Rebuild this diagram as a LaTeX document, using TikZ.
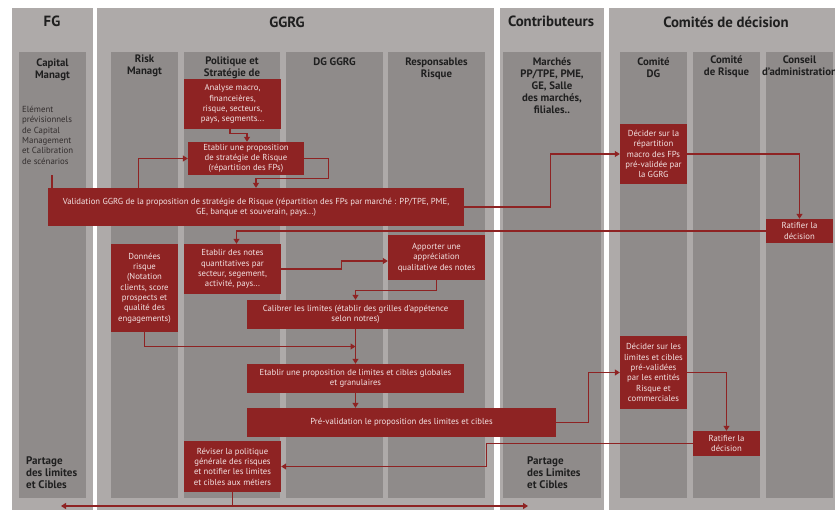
\documentclass[tikz,border=0pt]{standalone}
\usepackage{fontspec}
\setmainfont{PT Sans}
\usetikzlibrary{arrows.meta,calc}
\definecolor{panel}{HTML}{AEAAA9}
\definecolor{lane}{HTML}{8F8B8A}
\definecolor{rd}{HTML}{8E2323}
\definecolor{rtxt}{HTML}{F2E2E2}
\definecolor{hd}{HTML}{1F1F1F}
\definecolor{gtxt}{HTML}{332E2E}
\begin{document}
\begin{tikzpicture}[x=1pt,y=-1pt,
  panelbox/.style={fill=panel,draw=none},
  lanebox/.style={fill=lane,draw=none},
  titletxt/.style={font=\fontsize{14.8}{16}\selectfont\bfseries,text=hd,inner sep=0},
  lanehead/.style={font=\fontsize{10.8}{12}\selectfont\bfseries,text=hd,align=center,inner sep=0},
  rbox/.style={fill=rd,text=rtxt,font=\fontsize{8.7}{10.3}\selectfont,align=center,inner sep=0,draw=none},
  arr/.style={draw=rd,line width=1.1pt,-{Triangle[width=6pt,length=5pt]}},
  darr/.style={draw=rd,line width=1.1pt,{Triangle[width=6pt,length=5pt]}-{Triangle[width=6pt,length=5pt]}},
  conn/.style={draw=rd,line width=1.1pt},
  gtext/.style={font=\fontsize{8.8}{10.3}\selectfont,text=gtxt,align=left,inner sep=0},
  ptext/.style={font=\fontsize{11}{12}\selectfont\bfseries,text=hd,align=left,inner sep=0}
]
\useasboundingbox (0,0) rectangle (835,509);
\clip (0,0) rectangle (835,509);
\fill[white] (0,0) rectangle (835,509);
% panels
\fill[panelbox] (12,8) rectangle (93,515);
\fill[panelbox] (97,8) rectangle (494,515);
\fill[panelbox] (500,8) rectangle (604,515);
\fill[panelbox] (609,8) rectangle (845,515);
% lanes
\fill[lanebox] (19,52) rectangle (86,498);
\fill[lanebox] (111,52) rectangle (178,498);
\fill[lanebox] (184,52) rectangle (280,498);
\fill[lanebox] (286,52) rectangle (383,498);
\fill[lanebox] (388,52) rectangle (485,498);
\fill[lanebox] (503,52) rectangle (601,498);
\fill[lanebox] (620,52) rectangle (687,498);
\fill[lanebox] (693,52) rectangle (760,498);
\fill[lanebox] (766,52) rectangle (833,498);
% titles
\node[titletxt] (tfg) at (52,21) {FG};
\node[titletxt] (tgg) at (287,22) {GGRG};
\node[titletxt] (tco) at (551,21) {Contributeurs};
\node[titletxt] (tcd) at (726,22) {Comités de décision};
% lane headers
\node[lanehead] (hcap) at (52.5,69.5) {Capital\\Managt};
\node[lanehead] (hrisk) at (144.5,66) {Risk\\Managt};
\node[lanehead] (hpol) at (232,67.5) {Politique et\\Stratégie de};
\node[lanehead] (hdg) at (334.5,62) {DG GGRG};
\node[lanehead] (hresp) at (436.5,69) {Responsables\\Risque};
\node[lanehead] (hmar) at (552,86) {Marchés\\PP/TPE, PME,\\GE, Salle\\des marchés,\\filiales..};
\node[lanehead] (hcdg) at (653.5,68) {Comité\\DG};
\node[lanehead] (hcr) at (726.5,67) {Comité\\de Risque};
\node[lanehead] (hca) at (799.5,66) {Conseil\\d’administration};
% side texts
\node[gtext,anchor=north west] (elem) at (22,106) {Elément\\prévisionnels\\de Capital\\Management\\et Calibration\\de scénarios};
\node[ptext,anchor=north west] (pfg) at (26,456) {Partage\\des limites\\et Cibles};
\node[ptext,anchor=north west] (pco) at (527,456) {Partage\\des Limites\\et Cibles};
% red boxes
\node[rbox,minimum width=97pt,minimum height=50pt] (an) at (232.5,104) {Analyse macro,\\financeières,\\risque, secteurs,\\pays, segments...};
\node[rbox,minimum width=116pt,minimum height=33pt] (ep) at (246,158.5) {Etablir une proposition\\de stratégie de Risque\\(répartition des FPs)};
\node[rbox,minimum width=416pt,minimum height=38pt] (val) at (256,207) {Validation GGRG de la proposition de stratégie de Risque (répartition des FPs par marché : PP/TPE, PME,\\GE, banque et souverain, pays...)};
\node[rbox,minimum width=67pt,minimum height=60pt] (dfp) at (653.5,154) {Décider sur la\\répartition\\macro des FPs\\pré-validée par\\la GGRG};
\node[rbox,minimum width=67pt,minimum height=24pt] (rat1) at (799.5,231) {Ratifier la\\décision};
\node[rbox,minimum width=67pt,minimum height=88pt] (don) at (144.5,288) {Données\\risque\\(Notation\\clients, score\\prospects et\\qualité des\\engagements)};
\node[rbox,minimum width=97pt,minimum height=50pt] (notes) at (232.5,269) {Etablir des notes\\quantitatives par\\secteur, segement,\\activité, pays...};
\node[rbox,minimum width=97pt,minimum height=45pt] (app) at (436.5,257.5) {Apporter une\\appréciation\\qualitative des notes};
\node[rbox,minimum width=217pt,minimum height=29pt] (cal) at (355.5,314.5) {Calibrer les limites (établir des grilles d’appétence\\selon notres)};
\node[rbox,minimum width=217pt,minimum height=29pt] (lim) at (355.5,378.5) {Etablir une proposition de limites et cibles globales\\et granulaires};
\node[rbox,minimum width=309pt,minimum height=29pt] (pre) at (401.5,422.5) {Pré-validation le proposition des limites et cibles};
\node[rbox,minimum width=67pt,minimum height=73pt] (dlim) at (653.5,372.5) {Décider sur les\\limites et cibles\\pré-validées\\par les entités\\Risque et\\commerciales};
\node[rbox,minimum width=67pt,minimum height=25pt] (rat2) at (726.5,443.5) {Ratifier la\\décision};
\node[rbox,minimum width=97pt,minimum height=51pt] (rev) at (232.5,466.5) {Réviser la politique\\générale des risques\\et notifier les limites\\et cibles aux métiers};
% coordinates
\coordinate (elb) at (52,175);
\coordinate (bl) at (61,506);
\coordinate (br) at (528,506);
% connectors
\draw[arr] ([xshift=-2.5pt]an.south) -- ++(0,4) -| ([xshift=1pt]ep.north);
\draw[conn] (elb) -- (elb |- val.north);
\draw[arr] ([xshift=91pt]val.north west) |- (ep.west);
\draw[arr] (ep.east) -- ++(24,0) -- ++(0,20) -| (val.north);
\draw[arr] (val.east) -- ++(86,0) |- (dfp.west);
\draw[arr] (dfp.east) -| (rat1.north);
\draw[arr] (rat1.west) -| ([xshift=4pt]notes.north);
\draw[arr] (notes.east) -- ++(60,0) |- ([yshift=-3.5pt]app.west);
\draw[arr] (app.south) -- ++(0,10) -| (cal.north);
\draw[arr] (don.south) |- ($(cal.south)!0.5!(lim.north)$);
\draw[arr] (cal.south) -- (lim.north);
\draw[arr] (lim.south) -- (lim.south |- pre.north);
\draw[arr] (pre.east) -- ++(32,0) |- (dlim.west);
\draw[arr] (dlim.east) -| (rat2.north);
\draw[arr] (rat2.west) -- ++(-206,0) |- (rev.east);
\draw[darr] (bl) -- (br);
\draw[conn] (rev.south) -- (rev.south |- bl);
\end{tikzpicture}
\end{document}
